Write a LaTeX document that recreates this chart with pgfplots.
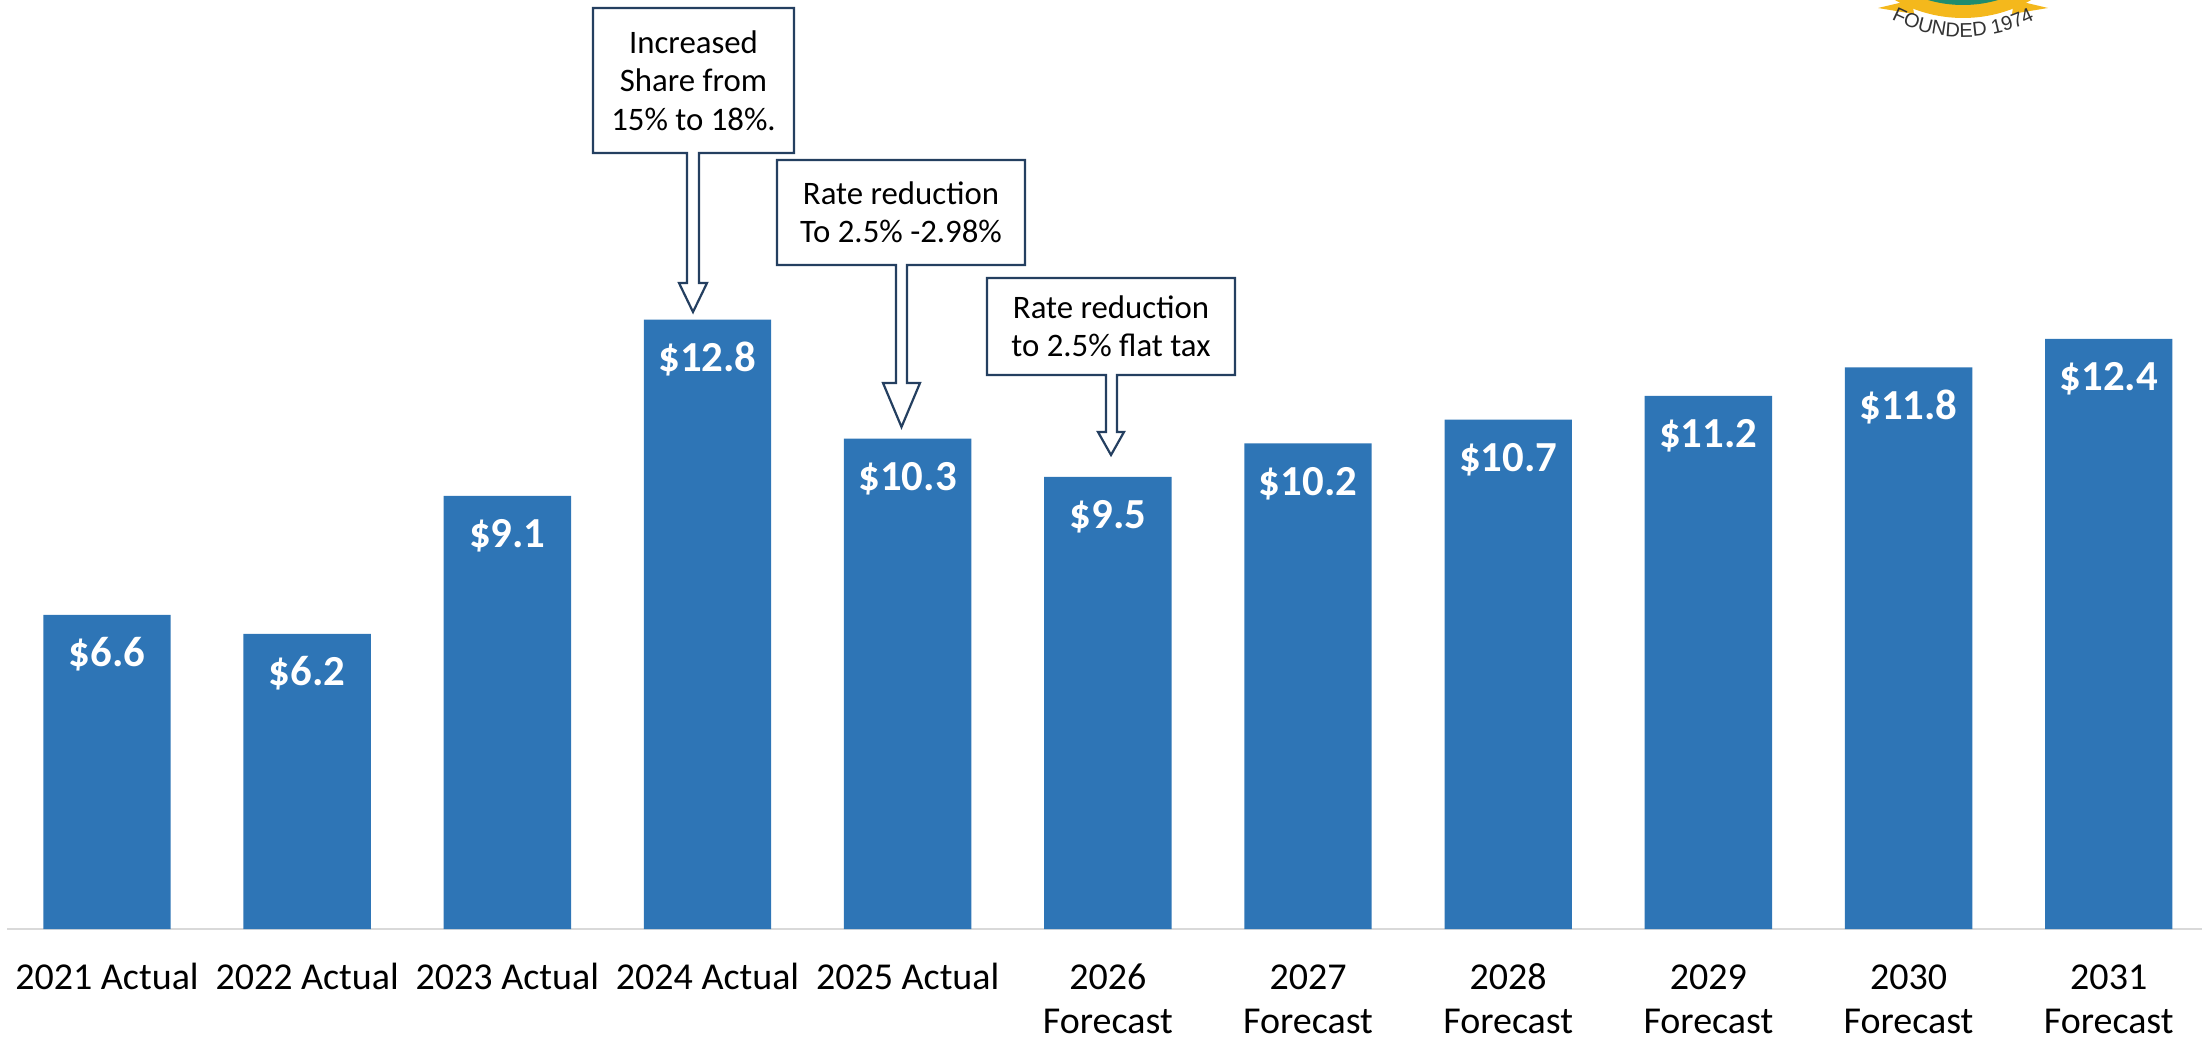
\documentclass[border=0pt]{standalone}
\usepackage{fontspec}
\setmainfont{Carlito}
\newfontfamily\logofont{Liberation Sans}
\usepackage{pgfplots}
\pgfplotsset{compat=1.18}
\usetikzlibrary{decorations.text}
\definecolor{barblue}{HTML}{2E75B6}
\definecolor{navy}{HTML}{243F60}
\definecolor{axisgray}{HTML}{D9D9D9}
\definecolor{logoyellow}{HTML}{F4B81C}
\definecolor{logogreen}{HTML}{1E8C6E}
\begin{document}
\begin{tikzpicture}
\begin{axis}[
  scale only axis, width=550.5pt, height=232.25pt,
  xmin=-0.5345, xmax=10.4661, ymin=0, ymax=19.517,
  axis line style={draw=none}, hide y axis,
  ybar, bar width=0.6365,
  xtick={0,...,10},
  xticklabels={{\strut 2021 Actual},{\strut 2022 Actual},{\strut 2023 Actual},{\strut 2024 Actual},{\strut 2025 Actual},
    {\strut 2026\\Forecast},{\strut 2027\\Forecast},{\strut 2028\\Forecast},{\strut 2029\\Forecast},{\strut 2030\\Forecast},{\strut 2031\\Forecast}},
  major tick length=0pt,
  xticklabel style={anchor=north, inner sep=0pt, yshift=-7.44pt, align=center, font=\fontsize{9.5}{10.8}\selectfont},
  point meta=explicit symbolic,
  nodes near coords={\$\pgfplotspointmeta},
  nodes near coords style={anchor=base, yshift=-13pt, text=white, inner sep=0pt, font=\fontsize{10.7}{12}\selectfont\bfseries},
  clip=false,
]
\draw[axisgray, line width=0.6pt] (axis cs:-0.498,0) -- (axis cs:10.4661,0);
\addplot[fill=barblue, draw=none] coordinates {
  (0,6.6) [6.6]
  (1,6.2) [6.2]
  (2,9.1) [9.1]
  (3,12.8) [12.8]
  (4,10.3) [10.3]
  (5,9.5) [9.5]
  (6,10.2) [10.2]
  (7,10.7) [10.7]
  (8,11.2) [11.2]
  (9,11.8) [11.8]
  (10,12.4) [12.4]
};
\coordinate (tl) at (rel axis cs:0,1);
\end{axis}
% callouts in pixel coordinates (origin top-left, y down)
\begin{scope}[shift={(tl)}, x=0.25pt, y=-0.25pt]
\draw[navy, line width=0.55pt, fill=white, line join=miter]
  (593,8) -- (794,8) -- (794,153) -- (699,153) -- (699,283) -- (707,283) -- (693,312)
  -- (679,283) -- (687,283) -- (687,153) -- (593,153) -- cycle;
\node[align=center, font=\fontsize{8.2}{9.6}\selectfont] at (693.5,80.5) {Increased\\Share from\\15\% to 18\%.};
\draw[navy, line width=0.55pt, fill=white, line join=miter]
  (777,160) -- (1025,160) -- (1025,265) -- (907,265) -- (907,383) -- (920,383) -- (901.5,427)
  -- (883,383) -- (896,383) -- (896,265) -- (777,265) -- cycle;
\node[align=center, font=\fontsize{8.2}{9.4}\selectfont] at (901,212.5) {Rate reduction\\To 2.5\% -2.98\%};
\draw[navy, line width=0.55pt, fill=white, line join=miter]
  (987,278) -- (1235,278) -- (1235,375) -- (1117,375) -- (1117,432) -- (1124,432) -- (1111,455)
  -- (1098,432) -- (1106,432) -- (1106,375) -- (987,375) -- cycle;
\node[align=center, font=\fontsize{8.2}{9.6}\selectfont] at (1111,326.5) {Rate reduction\\to 2.5\% flat tax};
\end{scope}
% partial logo at the top
\begin{scope}[shift={(tl)}, x=0.25pt, y=0.25pt]
\clip (0,0) rectangle (2202,-1038);
\fill[logoyellow] (1963,120) circle[radius=34.5pt];
\fill[logogreen] (1963,120) circle[radius=31.25pt];
\fill[logoyellow] (1878,-8) -- (1912,0) -- (1914,-14) -- cycle;
\fill[logoyellow] (2048,-8) -- (2014,0) -- (2012,-14) -- cycle;
\path[decorate, decoration={text along path, text align=center,
   text={|\logofont\fontsize{5}{6}\selectfont\color{black!80}|FOUNDED 1974}}]
  (1963,120) ++(240:39.25pt) arc[start angle=240, end angle=300, radius=39.25pt];
\end{scope}
\pgfresetboundingbox
\path[use as bounding box] (tl) rectangle ++(550.5pt,-259.5pt);
\end{tikzpicture}
\end{document}
